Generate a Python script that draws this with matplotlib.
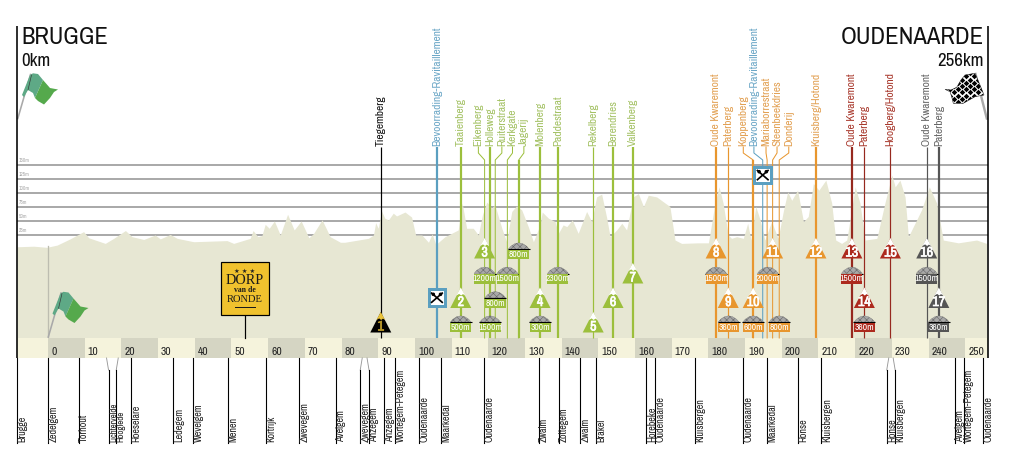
import numpy as np
import matplotlib
matplotlib.use("Agg")
import matplotlib.pyplot as plt
import matplotlib.patheffects as pe
from matplotlib.patches import Polygon, Rectangle, Ellipse

# ---------- data ----------
profile_km = [-8.4,-3.9,-0.3,2.5,6,9.7,11.1,15.6,17.9,21.1,22.9,26.1,29.2,30.6,33.3,35.2,39.7,48.8,50.6,55.1,55.9,57.2,58.3,59.2,60.3,61.7,63.3,65.3,67.1,69,71.1,72.4,74.7,76.9,79.7,80.9,87.3,88.7,89.3,90,90.9,91.8,92.8,94.1,95,97.3,99.1,100.2,101.9,103.7,104.7,105.7,108.2,111.8,112.9,114.1,115.9,117.3,118.4,119.6,120.9,121.8,123.7,125,126.4,127.7,129.1,130.9,132.3,134.1,134.7,136.4,138.2,139.1,140.4,141.4,142.9,144.5,146.8,148.2,149.5,150.9,152.3,153.2,155,156.4,157.7,159.5,160.9,162.3,163.6,165.9,168.2,169.5,170.9,172.7,177.2,180,181.8,182.9,184,185.4,186.3,187.7,189.5,190.7,191.6,192.9,194.1,195.4,197.2,199,200.4,201.6,202.7,204.3,205.9,207.2,208.6,210.1,212,213.6,214.7,216.3,217.7,220,221.3,222.7,225.9,228.1,230,230.9,232.2,233.6,234.5,238.1,240.2,242.2,244,248.1,253.1,255.8]
profile_m = [4,5,3,7,18,31,20,10,19,33,22,17,25,18,26,19,13,15,10,19,33,22,24,44,37,50,25,62,34,50,20,28,52,22,12,12,19,25,47,37,68,55,52,64,59,66,57,25,25,12,27,8,22,34,82,37,37,25,61,84,73,79,37,13,67,77,70,40,13,43,66,55,49,28,43,40,52,28,67,49,93,98,55,22,34,46,34,93,99,76,96,93,82,76,16,10,11,11,82,111,82,25,19,22,19,46,16,76,52,16,49,19,67,102,87,105,49,58,117,105,123,82,16,10,16,111,82,16,19,82,132,111,123,93,22,70,111,82,16,11,16,10]

grid_m = [150,125,100,75,50,25]
band_km = list(range(0,260,10))

climb_names = ["Tiegemberg","Bevoorrading-Ravitaillement","Taaienberg","Eikenberg","Holleweg","Ruiterstraat","Kerkgate","Jagerij","Molenberg","Paddestraat","Rekelberg","Berendries","Valkenberg","Oude Kwaremont","Paterberg","Koppenberg","Bevoorrading-Ravitaillement","Mariaborrestraat","Steenbeekdries","Donderij","Kruisberg/Hotond","Oude Kwaremont","Paterberg","Hoogberg/Hotond","Oude Kwaremont","Paterberg"]
climb_km = [90.7,106.0,112.5,119.0,120.5,121.9,125.2,128.3,134.1,139.0,148.6,154.0,159.4,182.1,185.4,192.2,194.8,196.0,197.5,199.3,209.3,219.1,222.5,229.6,239.5,242.8]
climb_label_km = [90.7,106.0,112.5,117.3,120.5,123.7,126.6,129.7,134.1,139.0,148.6,154.0,159.4,182.1,185.4,189.5,192.4,195.7,198.7,201.9,209.3,219.1,222.5,229.6,239.5,242.8]
climb_group = ["k","b","g","g","g","g","g","g","g","g","g","g","g","o","o","o","b","o","o","o","o","r","r","r","s","s"]
climb_thick = [0,1,1,0,1,0,0,1,1,1,0,1,1,1,0,1,0,0,0,0,1,1,0,0,0,1]

hill_no = list(range(1,18))
hill_km = [90.7,112.5,119.0,134.1,148.6,154.0,159.4,182.1,185.4,192.2,197.5,209.3,219.1,222.5,229.6,239.5,242.8]
hill_row = [3,2,0,2,3,2,1,0,2,2,0,0,0,2,0,0,2]
hill_group = ["k","g","g","g","g","g","g","o","o","o","o","o","r","r","r","s","s"]

cob_label = ["500m","1200m","1500m","800m","1500m","800m","300m","2300m","1500m","2000m","360m","600m","800m","1500m","360m","1500m","360m"]
cob_km = [112.5,119.0,125.2,121.9,120.5,128.3,134.1,139.0,182.1,196.2,185.5,192.2,199.3,219.1,222.5,239.5,242.8]
cob_row = [3,1,1,2,3,0,3,1,1,1,3,3,3,1,3,1,3]
cob_group = ["g","g","g","g","g","g","g","g","o","o","o","o","o","r","r","s","s"]

town_names = ["Brugge","Zedelgem","Torhout","Lichtervelde","Hooglede","Roeselare","Ledegem","Wevelgem","Menen","Kortrijk","Zwevegem","Avelgem","Zwevegem","Anzegem","Anzegem","Wortegem-Petegem","Oudenaarde","Maarkedal","Oudenaarde","Zwalm","Zottegem","Zwalm","Brakel","Horebeke","Oudenaarde","Kluisbergen","Oudenaarde","Maarkedal","Ronse","Kluisbergen","Ronse","Kluisbergen","Avelgem","Wortegem-Petegem","Oudenaarde"]
town_km = [-8.5,0.1,8.4,16.5,18.6,22.7,34.2,39.6,49,59.3,68.5,78.5,85.1,87.5,91.7,94.7,101.2,107.2,118.9,133.7,139.2,145.1,149.3,163.1,165.5,176.4,189.5,196,204.5,210.8,228.6,230.9,247.1,249.6,254.8]
town_stub = [3,4,12,13,30,31]

services_km = [106.0,194.8]
services_y_m = [-87,132]
sign_km = 53.6

# ---------- style ----------
COL = {"k":"#000000","b":"#5b9fc0","g":"#9cbf3c","o":"#e8962e","r":"#ad2a1e","s":"#555555"}
TXT = {"k":"#111111","b":"#6aa6c6","g":"#a3c163","o":"#e2a052","r":"#a8382c","s":"#666666"}
LINE = dict(COL); LINE["r"]="#96291f"

plt.rcParams['font.family'] = ['Archivo Narrow','PT Sans Narrow','Roboto Condensed','Liberation Sans','DejaVu Sans']
plt.rcParams['hatch.linewidth']=0.4
W,H = 1019,475
PXKM, PXM = 3.669, 0.56
X0, Y0 = 48.0, 249.0
fig = plt.figure(figsize=(W/100,H/100),dpi=100,facecolor="white")
ax = fig.add_axes([0,0,1,1])
ax.set_xlim((0-X0)/PXKM,(W-X0)/PXKM)
ax.set_ylim((Y0-H)/PXM,(Y0-0)/PXM)
ax.axis("off")

def Y(p): return (Y0-p)/PXM          # vertical page position -> axis units
def DX(p): return p/PXKM             # horizontal size in px -> km
def DY(p): return p/PXM
def X(p): return (p-X0)/PXKM
LW = 0.72
KL, KR = X(17), X(987.5)
BAND_T, BAND_B = Y(338), Y(358)

# grid
for m in grid_m:
    ax.plot([KL,KR],[m,m],color="#8f8f8f",lw=1.5*LW,zorder=1,solid_capstyle="butt")
    ax.text(X(18.5),m+DY(2.0),f"{m}m",fontsize=3.8,color="#a8a8a8",va="bottom",ha="left",zorder=1)

# profile
ax.fill_between(profile_km,profile_m,BAND_T,color="#e7e7d3",lw=0,zorder=2)
ax.plot([0,0],[BAND_T,Y(246)],color="#bdbdb0",lw=1.3*LW,zorder=3)

# distance band
ax.add_patch(Rectangle((KL,BAND_B),-KL,BAND_T-BAND_B,fc="#f5f3dc",ec="none",zorder=3))
for i,k in enumerate(band_km):
    end=min(k+10,KR)
    if k<end:
        ax.add_patch(Rectangle((k,BAND_B),end-k,BAND_T-BAND_B,fc="#d5d5c3" if i%2==0 else "#f5f3dc",ec="none",zorder=3))
        ax.text(k+DX(3),Y(352.3),str(k),fontsize=8.3,color="#222222",ha="left",va="center",zorder=4)

# borders
for k in (KL,KR):
    ax.plot([k,k],[Y(26),BAND_B],color="black",lw=1.6*LW,zorder=6,solid_capstyle="butt")

# climb lines and labels
TOP=Y(147); B1=Y(153); B2=Y(160)
for n,k,lk,g,t in zip(climb_names,climb_km,climb_label_km,climb_group,climb_thick):
    lw=(2.2 if t else 1.2)*LW
    if g=="k": lw=1.2*LW
    if abs(k-lk)>0.01:
        ax.plot([lk,lk,k,k],[TOP,B1,B2,BAND_T],color=LINE[g],lw=1.0*LW,zorder=5,solid_joinstyle="miter")
        if t:
            ax.plot([k,k],[B2,BAND_T],color=LINE[g],lw=lw,zorder=5,solid_capstyle="butt")
    else:
        ax.plot([k,k],[TOP,BAND_T],color=LINE[g],lw=lw,zorder=5,solid_capstyle="butt")
    ax.text(lk,TOP+DY(1),n,rotation=90,ha="center",va="bottom",fontsize=8.2,color=TXT[g],zorder=5)

# towns
T_B=Y(443); T_T=Y(358); T_M=Y(370)
for i,(n,k) in enumerate(zip(town_names,town_km)):
    if i in town_stub:
        s=1 if i%2==0 else -1
        ax.plot([k,k+DX(s*2)],[T_M,T_T],color="#999999",lw=0.9*LW,zorder=5)
        ax.plot([k,k],[T_B,T_M],color="black",lw=1.1*LW,zorder=5)
    else:
        ax.plot([k,k],[T_B,T_T],color="black",lw=1.1*LW,zorder=5)
    fs = 6.4 if i in (3,4) else 7.2
    ax.text(k+DX(0.4),T_B+DY(1),n,rotation=90,ha="left",va="bottom",fontsize=fs,color="#222222",zorder=5)

# hills
ROW_APEX=[238.0,263.0,287.5,312.0]
for no,k,r,g in zip(hill_no,hill_km,hill_row,hill_group):
    a=ROW_APEX[r]; b=a+20.5; w=10.5
    c=COL[g]
    ax.add_patch(Polygon([(k-DX(w),Y(b)),(k,Y(a)),(k+DX(w),Y(b))],closed=True,fc=c,ec="none",zorder=7))
    cap="#e9c23a" if g=="k" else "white"
    ax.add_patch(Polygon([(k-DX(4.4),Y(a+8)),(k,Y(a)),(k+DX(4.4),Y(a+8)),(k+DX(2.2),Y(a+6.6)),(k+DX(0.4),Y(a+8)),(k-DX(1.6),Y(a+6.4))],closed=True,fc=cap,ec="none",zorder=8))
    tcol="#b9982a" if g=="k" else "white"
    t=ax.text(k,Y(a+14.5),str(no),ha="center",va="center",fontsize=10,color=tcol,zorder=8)
    t.set_path_effects([pe.withStroke(linewidth=0.5,foreground=tcol)])

# cobbles
ROW_LINE=[249.3,273.5,298.0,322.3]
for lab,k,r,g in zip(cob_label,cob_km,cob_row,cob_group):
    y=ROW_LINE[r]; c=COL[g]
    ax.add_patch(Polygon([(k-DX(10.5),Y(y)),(k-DX(8),Y(y-3)),(k-DX(4),Y(y-5.6)),(k,Y(y-6.5)),(k+DX(4),Y(y-5.6)),(k+DX(8),Y(y-3)),(k+DX(10.5),Y(y))],
        closed=True,fc="#a8a8a8",ec="#666666",lw=0.2,hatch="xxxxx",zorder=7))
    ax.plot([k-DX(11),k+DX(11)],[Y(y),Y(y)],color="black",lw=1.1*LW,zorder=8,solid_capstyle="butt")
    ax.add_patch(Rectangle((k-DX(10.5),Y(y+10)),DX(21),DY(9.2),fc=c,ec="none",zorder=8))
    ax.text(k,Y(y+5.3),lab,ha="center",va="center",fontsize=6.8,color="white",fontweight="bold",zorder=9)

# feed-zone boxes
for k,m in zip(services_km,services_y_m):
    hx,hy=DX(8.4),DY(8.4)
    ax.add_patch(Rectangle((k-hx,m-hy),2*hx,2*hy,fc="white",ec=COL["b"],lw=3*LW,zorder=9))
    ax.plot([k-DX(5.3),k+DX(5.3)],[m+DY(4.6),m-DY(4.6)],color="black",lw=1.7*LW,zorder=10)
    ax.plot([k-DX(5.3),k+DX(5.3)],[m-DY(4.6),m+DY(4.6)],color="black",lw=1.7*LW,zorder=10)
    for s in (-1,1):
        ax.add_patch(Ellipse((k+s*DX(3.6),m+DY(3.4)),DX(3.6),DY(3.6),fc="black",ec="none",zorder=10))

# Dorp van de Ronde sign
ax.plot([sign_km,sign_km],[BAND_T,Y(314)],color="black",lw=1.2*LW,zorder=6)
ax.add_patch(Rectangle((X(220.5),Y(314.5)),DX(48),DY(53),fc="#f0c22e",ec="black",lw=1.2*LW,zorder=6))
ax.text(sign_km,Y(271),"★ ★ ★",ha="center",va="center",fontsize=4.6,color="#222222",family="DejaVu Sans",zorder=7)
ax.text(sign_km,Y(280.5),"DORP",ha="center",va="center",fontsize=10.2,family="Liberation Serif",color="#1a1a1a",zorder=7)
ax.text(sign_km,Y(290),"van de",ha="center",va="center",fontsize=5.6,family="Liberation Serif",fontweight="bold",color="#1a1a1a",zorder=7)
ax.text(sign_km,Y(299.3),"RONDE",ha="center",va="center",fontsize=7.6,family="Liberation Serif",color="#1a1a1a",zorder=7)
ax.plot([X(234.5),X(255)],[Y(306.5),Y(306.5)],color="#1a1a1a",lw=1.0*LW,zorder=7)

# flags
LEFT=[(22,95),(24,90),(30,75),(33,73.3),(38,74),(43,80),(35,98),(33,93),(28,90),(24,97)]
RIGHT=[(43,80),(50,88),(58,89.5),(54,92),(50,98),(44,104.5),(38,101),(35,98)]
def poly(pts,dx=0,dy=0,**kw):
    ax.add_patch(Polygon([(X(a+dx),Y(b+dy)) for a,b in pts],closed=True,**kw))
for dx,dy,z in ((0,0,4),(30.5,218.5,4)):
    ax.plot([X(17.8+dx),X(30.5+dx)],[Y(118.5+dy),Y(74.5+dy)],color="#a9a9a9",lw=1.6*LW,zorder=z)
    poly(LEFT,dx,dy,fc="#5ea986",ec="none",zorder=z+1)
    poly(RIGHT,dx,dy,fc="#55a94c",ec="none",zorder=z+1)
    ax.plot([X(28+dx),X(31.5+dx)],[Y(90+dy),Y(75+dy)],color="#333333",lw=0.6*LW,zorder=z+2)

ax.plot([X(986.8),X(975.5)],[Y(118.5),Y(74)],color="#a9a9a9",lw=2.4*LW,zorder=4)
CHK=[(945,89.3),(951,90),(956.7,87.3),(961,80),(965,75),(975,73.3),(980,85),(984,95),(975,96.7),(963.3,103.3),(953.3,103.3),(951.7,96.7),(950,91.7)]
flag_patch=Polygon([(X(a),Y(b)) for a,b in CHK],closed=True,fc="white",ec="#222222",lw=0.4,zorder=5)
ax.add_patch(flag_patch)
gx,gy=[],[]
for i,px in enumerate(np.arange(942,988,4.0)):
    for py in np.arange(70+(i%2)*3.2,106,6.4):
        gx.append(X(px)); gy.append(Y(py))
sc=ax.scatter(gx,gy,marker="D",s=8,c="black",linewidths=0,zorder=6)
sc.set_clip_path(flag_patch)

# titles
ax.text(X(21.5),Y(44.5),"BRUGGE",fontsize=17.5,color="#111111",ha="left",va="baseline",zorder=6)
ax.text(X(21.5),Y(66),"0km",fontsize=13.6,color="#111111",ha="left",va="baseline",zorder=6)
ax.text(X(984),Y(44.5),"OUDENAARDE",fontsize=17.8,color="#111111",ha="right",va="baseline",zorder=6)
ax.text(X(984),Y(66),"256km",fontsize=13.6,color="#111111",ha="right",va="baseline",zorder=6)

fig.savefig("out.png",dpi=100,facecolor="white")
